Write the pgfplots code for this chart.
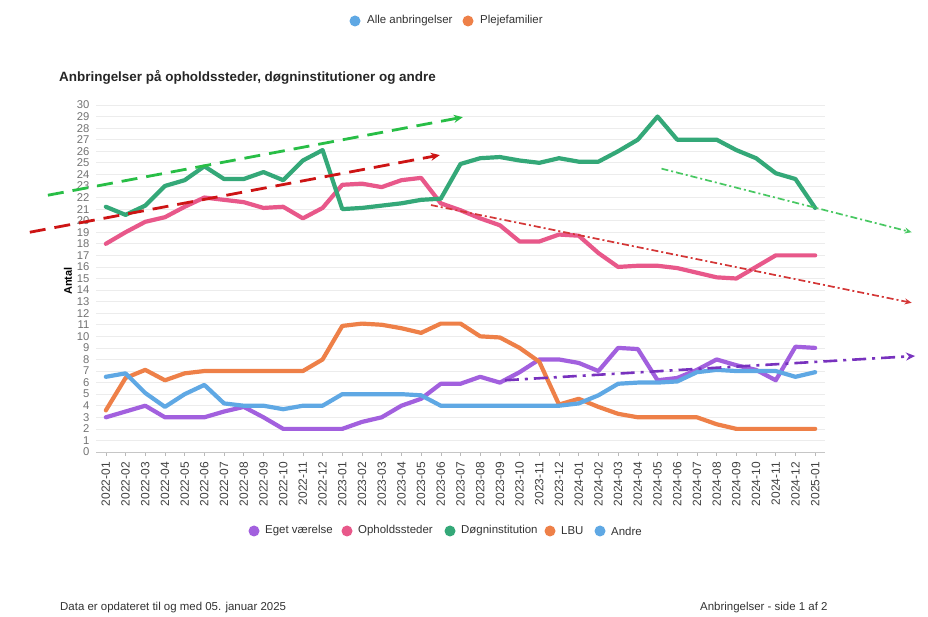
\documentclass[border=0pt]{standalone}
\usepackage{pgfplots}
\pgfplotsset{compat=1.18}
\usepackage{fontspec}
\setmainfont{Liberation Sans}
\usetikzlibrary{arrows.meta}
\definecolor{cgreen}{RGB}{52,168,120}
\definecolor{cpink}{RGB}{232,88,138}
\definecolor{corange}{RGB}{238,128,72}
\definecolor{cblue}{RGB}{95,168,228}
\definecolor{cpurple}{RGB}{162,96,222}
\definecolor{tgreen}{RGB}{40,190,70}
\definecolor{tred}{RGB}{205,20,20}
\definecolor{tpurple}{RGB}{120,50,190}
\definecolor{txt}{RGB}{51,51,51}
\begin{document}
\begin{tikzpicture}
\path[use as bounding box, fill=white] (0,0) rectangle (928bp,617bp);
\begin{axis}[
  at={(96bp,165bp)}, anchor=south west,
  scale only axis, width=729bp, height=347bp,
  xmin=-0.5, xmax=36.5, ymin=0, ymax=30,
  clip=false,
  axis x line*=bottom, axis y line*=left,
  x axis line style={draw=gray!45, line width=0.8bp},
  y axis line style={draw=none},
  xtick={0,...,36},
  xticklabels={2022-01,2022-02,2022-03,2022-04,2022-05,2022-06,2022-07,2022-08,2022-09,2022-10,2022-11,2022-12,2023-01,2023-02,2023-03,2023-04,2023-05,2023-06,2023-07,2023-08,2023-09,2023-10,2023-11,2023-12,2024-01,2024-02,2024-03,2024-04,2024-05,2024-06,2024-07,2024-08,2024-09,2024-10,2024-11,2024-12,2025-01},
  xticklabel style={rotate=90, anchor=east, font=\fontsize{12}{12}\selectfont, text=black!75, inner sep=6bp},
  x tick style={draw=gray!55, line width=0.6bp},
  tick align=outside,
  major tick length=4bp,
  ytick={0,...,30},
  y tick style={draw=none},
  yticklabel style={font=\fontsize{11.3}{11.3}\selectfont, text=black!55, inner sep=2.5bp},
  /pgf/number format/assume math mode=true,
  ymajorgrids,
  grid style={draw=gray!15, line width=0.7bp},
  every axis plot/.append style={line width=4.2bp, line join=round, line cap=round},
]
% Eget vaerelse
\addplot[cpurple] coordinates {(0,3.0)(1,3.5)(2,4.0)(3,3.0)(4,3.0)(5,3.0)(6,3.5)(7,3.9)(8,3.0)(9,2.0)(10,2.0)(11,2.0)(12,2.0)(13,2.6)(14,3.0)(15,4.0)(16,4.6)(17,5.9)(18,5.9)(19,6.5)(20,6.0)(21,6.9)(22,8.0)(23,8.0)(24,7.7)(25,7.0)(26,9.0)(27,8.9)(28,6.2)(29,6.4)(30,7.1)(31,8.0)(32,7.5)(33,7.1)(34,6.2)(35,9.1)(36,9.0)};
% Opholdssteder
\addplot[cpink] coordinates {(0,18.0)(1,19.0)(2,19.9)(3,20.3)(4,21.2)(5,22.0)(6,21.8)(7,21.6)(8,21.1)(9,21.2)(10,20.2)(11,21.1)(12,23.1)(13,23.2)(14,22.9)(15,23.5)(16,23.7)(17,21.5)(18,20.9)(19,20.2)(20,19.6)(21,18.2)(22,18.2)(23,18.8)(24,18.7)(25,17.2)(26,16.0)(27,16.1)(28,16.1)(29,15.9)(30,15.5)(31,15.1)(32,15.0)(33,16.0)(34,17.0)(35,17.0)(36,17.0)};
% Doegninstitution
\addplot[cgreen] coordinates {(0,21.2)(1,20.5)(2,21.3)(3,23.0)(4,23.5)(5,24.7)(6,23.6)(7,23.6)(8,24.2)(9,23.5)(10,25.2)(11,26.1)(12,21.0)(13,21.1)(14,21.3)(15,21.5)(16,21.8)(17,21.9)(18,24.9)(19,25.4)(20,25.5)(21,25.2)(22,25.0)(23,25.4)(24,25.1)(25,25.1)(26,26.0)(27,27.0)(28,29.0)(29,27.0)(30,27.0)(31,27.0)(32,26.1)(33,25.4)(34,24.1)(35,23.6)(36,21.1)};
% LBU
\addplot[corange] coordinates {(0,3.6)(1,6.4)(2,7.1)(3,6.2)(4,6.8)(5,7.0)(6,7.0)(7,7.0)(8,7.0)(9,7.0)(10,7.0)(11,8.0)(12,10.9)(13,11.1)(14,11.0)(15,10.7)(16,10.3)(17,11.1)(18,11.1)(19,10.0)(20,9.9)(21,9.0)(22,7.8)(23,4.1)(24,4.6)(25,3.9)(26,3.3)(27,3.0)(28,3.0)(29,3.0)(30,3.0)(31,2.4)(32,2.0)(33,2.0)(34,2.0)(35,2.0)(36,2.0)};
% Andre
\addplot[cblue] coordinates {(0,6.5)(1,6.8)(2,5.1)(3,3.9)(4,5.0)(5,5.8)(6,4.2)(7,4.0)(8,4.0)(9,3.7)(10,4.0)(11,4.0)(12,5.0)(13,5.0)(14,5.0)(15,5.0)(16,4.9)(17,4.0)(18,4.0)(19,4.0)(20,4.0)(21,4.0)(22,4.0)(23,4.0)(24,4.2)(25,4.9)(26,5.9)(27,6.0)(28,6.0)(29,6.1)(30,6.9)(31,7.1)(32,7.0)(33,7.0)(34,7.0)(35,6.5)(36,6.9)};
% trend arrows
\addplot[tgreen, line width=2.8bp, line cap=butt, dash pattern=on 16bp off 9bp, -{Stealth[length=9bp,width=8bp]}] coordinates {(-2.94,22.2)(18.12,28.95)};
\addplot[tred, line width=2.8bp, line cap=butt, dash pattern=on 16bp off 9bp, -{Stealth[length=9bp,width=8bp]}] coordinates {(-3.86,19.0)(16.95,25.67)};
\addplot[tgreen!85!white, line width=1.7bp, line cap=butt, dash pattern=on 7bp off 3bp on 2bp off 3bp, -{Stealth[length=7bp,width=6bp]}] coordinates {(28.2,24.5)(40.9,19.0)};
\addplot[tred!85!white, line width=1.7bp, line cap=butt, dash pattern=on 7bp off 3bp on 2bp off 3bp, -{Stealth[length=7bp,width=6bp]}] coordinates {(16.5,21.35)(40.9,12.9)};
\addplot[tpurple, line width=2.6bp, line cap=butt, dash pattern=on 14bp off 6bp on 3bp off 6bp, -{Stealth[length=9bp,width=8bp]}] coordinates {(20.25,6.2)(41.07,8.3)};
\end{axis}
% y label
\node[rotate=90, font=\fontsize{11}{12}\selectfont\bfseries, text=black] at (68bp,336bp) {Antal};
% title
\node[anchor=west, inner sep=0pt, font=\fontsize{13.5}{14}\selectfont\bfseries, text=black!85] at (59bp,540bp) {Anbringelser på opholdssteder, døgninstitutioner og andre};
% top legend
\fill[cblue] (355bp,596bp) circle (5.5bp);
\node[anchor=west, inner sep=0pt, font=\fontsize{11.5}{12}\selectfont, text=txt] at (367bp,596bp) {Alle anbringelser};
\fill[corange] (468bp,596bp) circle (5.5bp);
\node[anchor=west, inner sep=0pt, font=\fontsize{11.5}{12}\selectfont, text=txt] at (480bp,596bp) {Plejefamilier};
% bottom legend
\fill[cpurple] (254bp,86bp) circle (5.5bp);
\node[anchor=west, inner sep=0pt, font=\fontsize{11.5}{12}\selectfont, text=txt] at (265bp,86bp) {Eget værelse};
\fill[cpink] (347bp,86bp) circle (5.5bp);
\node[anchor=west, inner sep=0pt, font=\fontsize{11.5}{12}\selectfont, text=txt] at (358bp,86bp) {Opholdssteder};
\fill[cgreen] (450bp,86bp) circle (5.5bp);
\node[anchor=west, inner sep=0pt, font=\fontsize{11.5}{12}\selectfont, text=txt] at (461bp,86bp) {Døgninstitution};
\fill[corange] (550bp,86bp) circle (5.5bp);
\node[anchor=west, inner sep=0pt, font=\fontsize{11.5}{12}\selectfont, text=txt] at (561bp,86bp) {LBU};
\fill[cblue] (600bp,86bp) circle (5.5bp);
\node[anchor=west, inner sep=0pt, font=\fontsize{11.5}{12}\selectfont, text=txt] at (611bp,86bp) {Andre};
% footer
\node[anchor=west, inner sep=0pt, font=\fontsize{11.5}{12}\selectfont, text=txt] at (60bp,9bp) {Data er opdateret til og med 05. januar 2025};
\node[anchor=west, inner sep=0pt, font=\fontsize{11.5}{12}\selectfont, text=txt] at (700bp,9bp) {Anbringelser - side 1 af 2};
\end{tikzpicture}
\end{document}
